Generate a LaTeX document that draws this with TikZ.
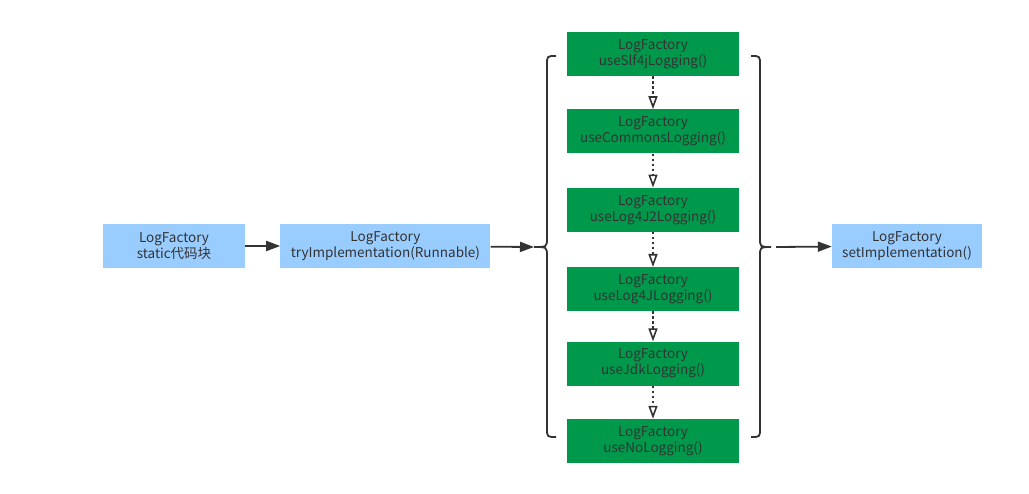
\documentclass[tikz,border=0pt]{standalone}
\usepackage{fontspec}
\setmainfont{Noto Sans CJK SC}
\usepackage{tikz}
\usetikzlibrary{arrows.meta, positioning}
\definecolor{lightblue}{HTML}{99CCFF}
\definecolor{darkgreen}{HTML}{00994C}
\definecolor{textgray}{HTML}{333333}
\tikzstyle{every node}=[font=\fontsize{13.5}{16}\selectfont, text=textgray, align=center]
\tikzstyle{block}=[fill=lightblue, rectangle, minimum height=44pt, inner sep=0pt]
\tikzstyle{gblock}=[fill=darkgreen, rectangle, minimum width=172pt, minimum height=44pt, inner sep=0pt]
\tikzstyle{flow}=[draw=textgray, line width=1.8pt, -{Triangle[length=14pt,width=10pt]}]
\tikzstyle{tryflow}=[draw=textgray, line width=2.2pt, dash pattern=on 2.5pt off 2.5pt, -{Triangle[open,length=13pt,width=9pt,line width=1.6pt]}]
\tikzstyle{brace}=[draw=textgray, line width=1.8pt]

\begin{document}
\begin{tikzpicture}[x=1pt, y=-1pt]
  \useasboundingbox (0,0) rectangle (1029,494);
  \node[block, minimum width=142pt] (static) at (174,246) {LogFactory\\static代码块};
  \node[block, minimum width=210pt, right=35pt of static] (try) {LogFactory\\tryImplementation(Runnable)};
  \node[gblock] (slf) at (653,54) {LogFactory\\useSlf4jLogging()};
  \node[gblock, below=33pt of slf] (commons) {LogFactory\\useCommonsLogging()};
  \node[gblock, below=34pt of commons] (logtwo) {LogFactory\\useLog4J2Logging()};
  \node[gblock, below=35pt of logtwo] (logone) {LogFactory\\useLog4JLogging()};
  \node[gblock, below=30pt of logone] (jdk) {LogFactory\\useJdkLogging()};
  \node[gblock, below=33pt of jdk] (nolog) {LogFactory\\useNoLogging()};
  \node[block, minimum width=150pt] (setimpl) at (907,246) {LogFactory\\setImplementation()};
  % braces
  \coordinate (lbrace) at (534,247);
  \coordinate (rbrace) at (771,247);
  \draw[brace] (556,56) .. controls (547,56) .. (547,65) -- (547,238)
    .. controls (547,247) .. (lbrace) .. controls (547,247) .. (547,256)
    -- (547,428) .. controls (547,437) .. (556,437);
  \draw[brace] (751,56) .. controls (760,56) .. (760,65) -- (760,238)
    .. controls (760,247) .. (rbrace) .. controls (760,247) .. (760,256)
    -- (760,428) .. controls (760,437) .. (751,437);
  \draw[flow] (static) -- (try);
  \draw[flow] (try) -- (lbrace);
  \draw[flow] ([xshift=5pt]rbrace) -- (setimpl);
  \draw[tryflow] (slf) -- (commons);
  \draw[tryflow] (commons) -- (logtwo);
  \draw[tryflow] (logtwo) -- (logone);
  \draw[tryflow] (logone) -- (jdk);
  \draw[tryflow] (jdk) -- (nolog);
\end{tikzpicture}
\end{document}
